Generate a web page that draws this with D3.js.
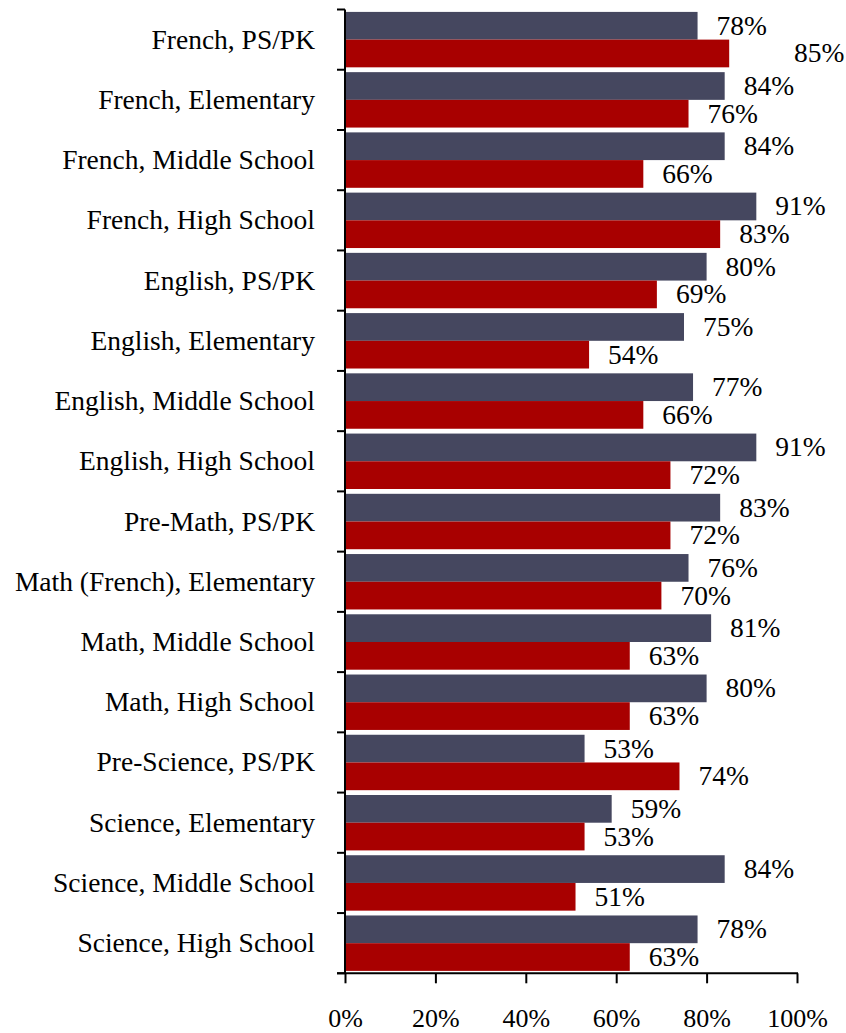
<!DOCTYPE html>
<html>
<head>
<meta charset="utf-8">
<script src="https://cdn.jsdelivr.net/npm/d3@7"></script>
<style>
  html, body { margin: 0; padding: 0; background: #fff; }
  svg { display: block; }
  text { font-family: "Liberation Serif", "Times New Roman", serif; fill: #000; }
</style>
</head>
<body>
<svg id="chart" width="846" height="1033"></svg>
<script>
const categories = [
  "French, PS/PK",
  "French, Elementary",
  "French, Middle School",
  "French, High School",
  "English, PS/PK",
  "English, Elementary",
  "English, Middle School",
  "English, High School",
  "Pre-Math, PS/PK",
  "Math (French), Elementary",
  "Math, Middle School",
  "Math, High School",
  "Pre-Science, PS/PK",
  "Science, Elementary",
  "Science, Middle School",
  "Science, High School"
];
const seriesNames = ["Series A", "Series B"];
const seriesA = [78, 84, 84, 91, 80, 75, 77, 91, 83, 76, 81, 80, 53, 59, 84, 78];
const seriesB = [85, 76, 66, 83, 69, 54, 66, 72, 72, 70, 63, 63, 74, 53, 51, 63];
const xTicks = [0, 20, 40, 60, 80, 100];
const colors = ["#45475f", "#a80000"];

const svg = d3.select("#chart");
const pLeft = 345, pRight = 797, pTop = 9.5, pBottom = 973.3;

const x = d3.scaleLinear().domain([0, 100]).range([pLeft, pRight]);
const y = d3.scaleBand().domain(categories).range([pTop, pBottom])
  .paddingInner(0.08).paddingOuter(0.04);
const ySub = d3.scaleBand().domain(seriesNames).range([0, y.bandwidth()]);

const data = categories.map((c, i) => ({ cat: c, vals: [seriesA[i], seriesB[i]] }));

// bars
const g = svg.append("g");
data.forEach(d => {
  d.vals.forEach((v, j) => {
    g.append("rect")
      .attr("x", x(0))
      .attr("y", y(d.cat) + ySub(seriesNames[j]))
      .attr("width", x(v) - x(0))
      .attr("height", ySub.bandwidth())
      .attr("fill", colors[j]);
  });
});

// value labels
const lab = svg.append("g").attr("font-size", 27.5);
data.forEach(d => {
  const tA = lab.append("text")
    .attr("x", x(d.vals[0]) + 19)
    .attr("y", y(d.cat) + ySub(seriesNames[0]) + ySub.bandwidth() / 2 + 9)
    .text(d.vals[0] + "%");
  const aEnd = x(d.vals[0]) + 19 + tA.node().getComputedTextLength();
  let bx = x(d.vals[1]) + 19;
  if (d.vals[1] > d.vals[0] && bx < aEnd + 10) bx = aEnd + 27;
  lab.append("text")
    .attr("x", bx)
    .attr("y", y(d.cat) + ySub(seriesNames[1]) + ySub.bandwidth() / 2 + 9)
    .text(d.vals[1] + "%");
});

// y axis
const step = y.step();
svg.append("line")
  .attr("x1", pLeft).attr("x2", pLeft)
  .attr("y1", pTop).attr("y2", pBottom)
  .attr("stroke", "#000").attr("stroke-width", 2);
d3.range(categories.length + 1).forEach(k => {
  svg.append("line")
    .attr("x1", pLeft - 8).attr("x2", pLeft)
    .attr("y1", pTop + k * step).attr("y2", pTop + k * step)
    .attr("stroke", "#000").attr("stroke-width", 2);
});
svg.append("g").attr("font-size", 27.5)
  .selectAll("text").data(categories).join("text")
  .attr("x", 315)
  .attr("y", d => y(d) + y.bandwidth() / 2 + 9)
  .attr("text-anchor", "end")
  .text(d => d);

// x axis
const xAxis = d3.axisBottom(x).tickValues(xTicks).tickSize(10).tickPadding(20)
  .tickFormat(d => d + "%");
const ax = svg.append("g").attr("transform", `translate(0,${pBottom})`).call(xAxis);
ax.select(".domain").remove();
ax.selectAll(".tick line").attr("stroke", "#000").attr("stroke-width", 2);
ax.selectAll(".tick text")
  .attr("font-family", '"Liberation Serif", "Times New Roman", serif')
  .attr("font-size", 26).attr("fill", "#000")
  .attr("dy", null).attr("y", 53.5);
svg.append("line")
  .attr("x1", pLeft - 8).attr("x2", pRight + 1)
  .attr("y1", pBottom).attr("y2", pBottom)
  .attr("stroke", "#000").attr("stroke-width", 2);
</script>
</body>
</html>
